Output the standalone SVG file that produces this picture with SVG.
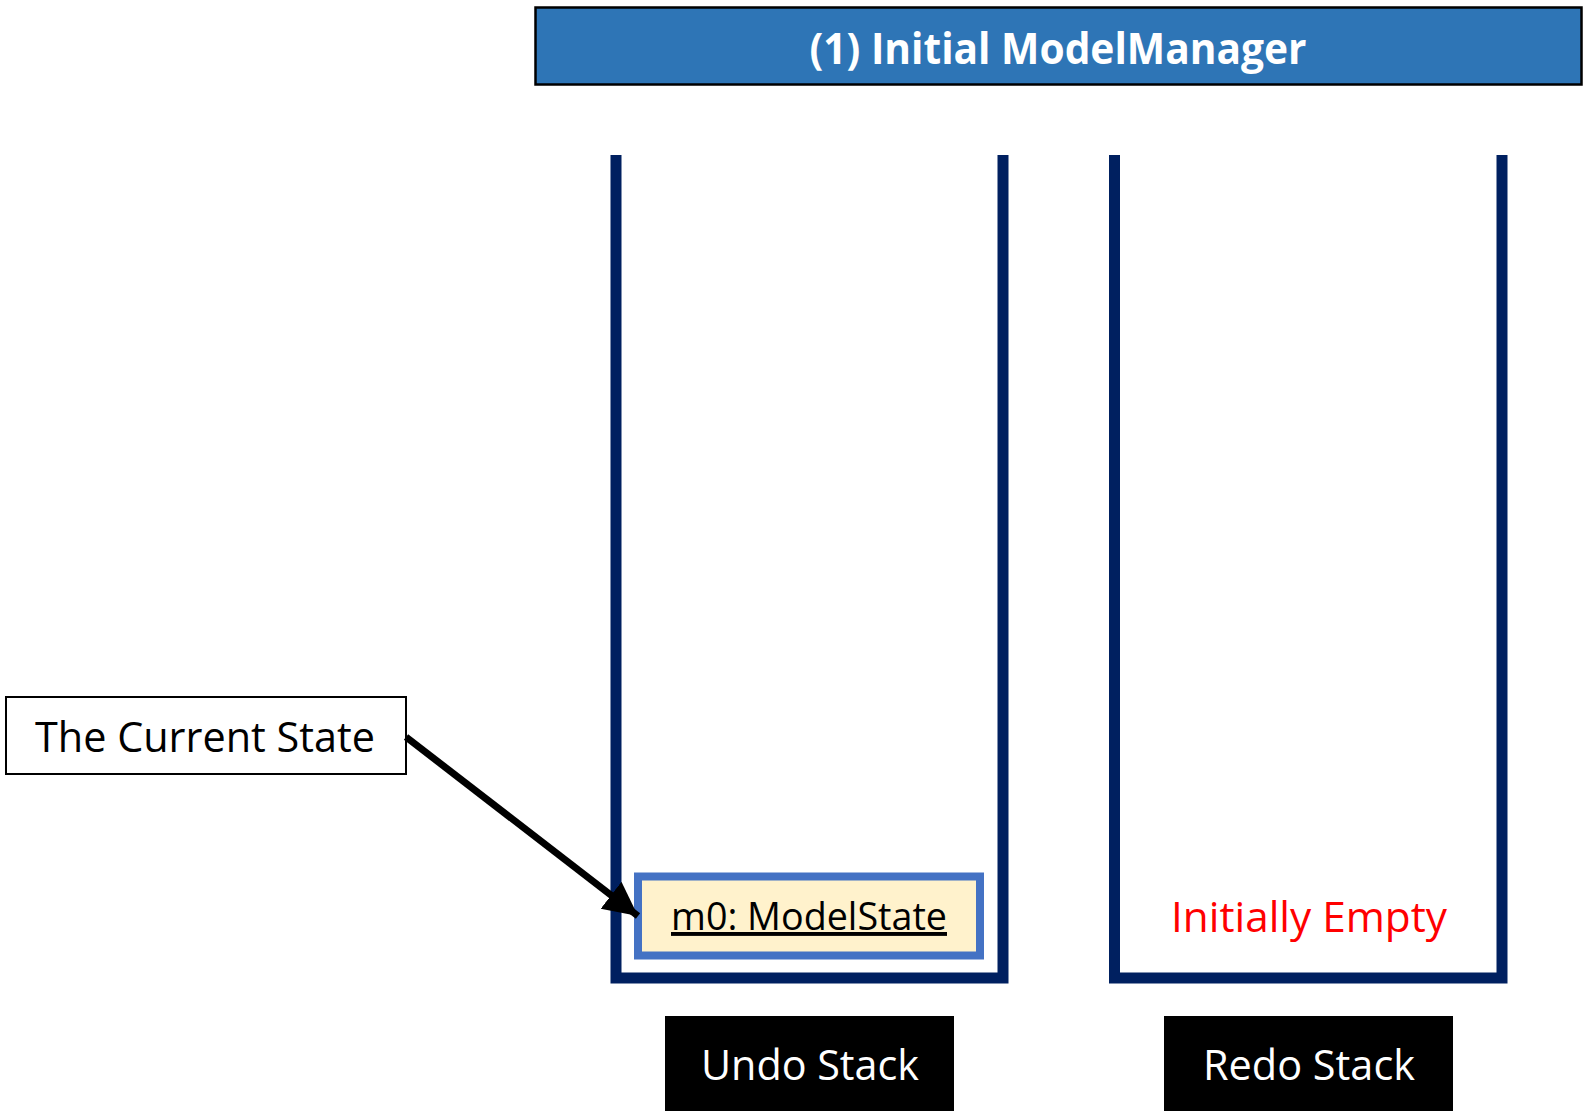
<svg xmlns="http://www.w3.org/2000/svg" width="1587" height="1119" viewBox="0 0 1587 1119">
<style>
.wall{fill:none;stroke:#002060;stroke-width:11;stroke-linejoin:miter;stroke-linecap:butt}
.t{font-family:"Open Sans","Liberation Sans",sans-serif}
</style>
<defs>
<marker id="ah" markerUnits="userSpaceOnUse" markerWidth="40" markerHeight="36" refX="34" refY="17" orient="auto">
<path d="M0,0 L34,17 L0,34 Z" fill="#000"/>
</marker>
</defs>
<rect width="1587" height="1119" fill="#fff"/>
<g id="title">
<rect x="535.5" y="7.5" width="1046" height="77" fill="#2E75B6" stroke="#000" stroke-width="2.5"/>
<text class="t" x="1058" y="64" text-anchor="middle" font-size="43" font-weight="bold" fill="#fff" textLength="497" lengthAdjust="spacingAndGlyphs">(1) Initial ModelManager</text>
</g>
<g id="undo-stack">
<path class="wall" d="M616,155 V978 H1003 V155"/>
</g>
<g id="redo-stack">
<path class="wall" d="M1114.5,155 V978 H1502 V155"/>
</g>
<g id="m0">
<rect x="638" y="876.5" width="342" height="79" fill="#FFF2CC" stroke="#4472C4" stroke-width="8"/>
<text class="t" x="809" y="930" text-anchor="middle" font-size="39" fill="#000" text-decoration="underline" textLength="276" lengthAdjust="spacingAndGlyphs">m0: ModelState</text>
</g>
<g id="initially-empty">
<text class="t" x="1309" y="932" text-anchor="middle" font-size="42" fill="#FF0000" textLength="276" lengthAdjust="spacingAndGlyphs">Initially Empty</text>
</g>
<g id="current-state">
<rect x="6" y="697" width="400" height="77" fill="#fff" stroke="#000" stroke-width="2"/>
<text class="t" x="205" y="752" text-anchor="middle" font-size="42" fill="#000" textLength="340" lengthAdjust="spacingAndGlyphs">The Current State</text>
</g>
<g id="undo-label">
<rect x="665" y="1016" width="289" height="95" fill="#000"/>
<text class="t" x="810" y="1080" text-anchor="middle" font-size="42" fill="#fff" textLength="218" lengthAdjust="spacingAndGlyphs">Undo Stack</text>
</g>
<g id="redo-label">
<rect x="1164" y="1016" width="289" height="95" fill="#000"/>
<text class="t" x="1309" y="1080" text-anchor="middle" font-size="42" fill="#fff" textLength="212" lengthAdjust="spacingAndGlyphs">Redo Stack</text>
</g>
<g id="connectors">
<line x1="406" y1="737" x2="638" y2="916" stroke="#000" stroke-width="7" marker-end="url(#ah)"/>
</g>
</svg>
